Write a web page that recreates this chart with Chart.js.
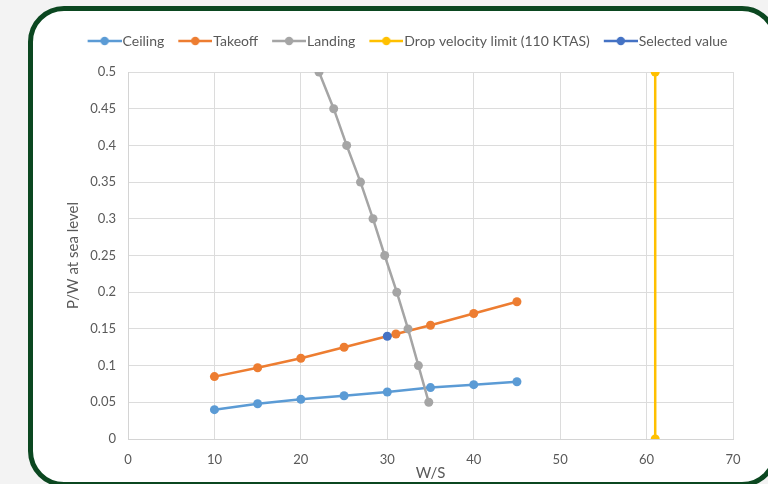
<!DOCTYPE html>
<html>
<head>
<meta charset="utf-8">
<script src="https://cdn.jsdelivr.net/npm/chart.js@4"></script>
<style>
  html, body { margin: 0; padding: 0; width: 768px; height: 484px; overflow: hidden; background: #f3f3f3; }
  #card { position: absolute; left: 28px; top: 6px; width: 750px; height: 481px; box-sizing: border-box;
          border: 5px solid #0b4720; border-radius: 36px; background: #ffffff; }
  #wrap { position: absolute; left: 0; top: 0; width: 768px; height: 484px; }
</style>
</head>
<body>
<div id="card"></div>
<div id="wrap"><canvas id="c" width="768" height="484"></canvas></div>
<script>
// ---- data ----
const seriesNames = ["Ceiling", "Takeoff", "Landing", "Drop velocity limit (110 KTAS)", "Selected value"];
const seriesColors = ["#5b9bd5", "#ed7d31", "#a5a5a5", "#ffc000", "#4472c4"];

const ceilingX = [10, 15, 20, 25, 30, 35, 40, 45];
const ceilingY = [0.040, 0.048, 0.054, 0.059, 0.064, 0.070, 0.074, 0.078];

const takeoffX = [10, 15, 20, 25, 31, 35, 40, 45];
const takeoffY = [0.085, 0.097, 0.110, 0.125, 0.143, 0.155, 0.171, 0.187];

const landingX = [22.1, 23.8, 25.3, 26.9, 28.35, 29.7, 31.1, 32.4, 33.6, 34.8];
const landingY = [0.50, 0.45, 0.40, 0.35, 0.30, 0.25, 0.20, 0.15, 0.10, 0.05];

const dropX = [61, 61];
const dropY = [0, 0.5];

const selectedX = [30];
const selectedY = [0.14];

const xTicks = [0, 10, 20, 30, 40, 50, 60, 70];
const yTicks = [0, 0.05, 0.1, 0.15, 0.2, 0.25, 0.3, 0.35, 0.4, 0.45, 0.5];

const xTitle = "W/S";
const yTitle = "P/W at sea level";
// ---------------------------------------

function pts(xs, ys) { return xs.map((x, i) => ({ x: x, y: ys[i] })); }

// legend marker: 34px line with a dot, shifted right inside a 40px image
function markerImg(color) {
  const cv = document.createElement('canvas');
  cv.width = 40; cv.height = 10;
  const g = cv.getContext('2d');
  g.strokeStyle = color; g.lineWidth = 2.5;
  g.beginPath(); g.moveTo(6, 5); g.lineTo(40, 5); g.stroke();
  g.fillStyle = color;
  g.beginPath(); g.arc(23, 5, 4.2, 0, Math.PI * 2); g.fill();
  return cv;
}
const markers = seriesColors.map(markerImg);

const allData = [pts(ceilingX, ceilingY), pts(takeoffX, takeoffY), pts(landingX, landingY), pts(dropX, dropY), pts(selectedX, selectedY)];

const datasets = seriesNames.map((name, i) => ({
  label: name,
  data: allData[i],
  borderColor: seriesColors[i],
  backgroundColor: seriesColors[i],
  pointBackgroundColor: seriesColors[i],
  pointBorderColor: seriesColors[i],
  borderWidth: 2.5,
  pointRadius: 4.5,
  pointBorderWidth: 0,
  showLine: true,
  tension: 0,
  order: seriesNames.length - i
}));

const shiftLegend = {
  id: 'shiftLegend',
  afterLayout(chart) {
    const lg = chart.legend;
    if (!lg) return;
    const dx = 11, dy = -14;
    lg.left += dx; lg.right += dx; lg.top += dy; lg.bottom += dy;
  }
};

const textColor = '#595959';
const fontFam = 'Lato, "Open Sans", sans-serif';

new Chart(document.getElementById('c'), {
  type: 'scatter',
  data: { datasets: datasets },
  plugins: [shiftLegend],
  options: {
    responsive: false,
    animation: false,
    layout: { padding: { left: 60, right: 35, top: 34, bottom: 0 } },
    plugins: {
      tooltip: { enabled: false },
      legend: {
        position: 'top',
        labels: {
          color: textColor,
          font: { family: fontFam, size: 14 },
          usePointStyle: true,
          pointStyleWidth: 28,
          padding: 14,
          generateLabels(chart) {
            const items = Chart.defaults.plugins.legend.labels.generateLabels(chart);
            items.sort((a, b) => a.datasetIndex - b.datasetIndex);
            items.forEach(it => { it.pointStyle = markers[it.datasetIndex]; });
            return items;
          }
        }
      }
    },
    scales: {
      x: {
        type: 'linear', min: 0, max: 70,
        afterBuildTicks(s) { s.ticks = xTicks.map(v => ({ value: v })); },
        afterFit(s) { s.height = 45; },
        grid: { color: '#dcdcdc', drawTicks: false, lineWidth: 1 },
        border: { color: '#d4d4d4' },
        ticks: { color: textColor, font: { family: fontFam, size: 13 }, padding: 13 },
        title: { display: true, text: xTitle, color: textColor, font: { family: fontFam, size: 15 }, padding: { top: 4, bottom: 2 } }
      },
      y: {
        type: 'linear', min: 0, max: 0.5,
        afterBuildTicks(s) { s.ticks = yTicks.map(v => ({ value: v })); },
        afterFit(s) { s.width = 68; },
        grid: { color: '#dcdcdc', drawTicks: false, lineWidth: 1 },
        border: { color: '#d4d4d4' },
        ticks: { color: textColor, font: { family: fontFam, size: 13 }, padding: 12,
                 callback: v => String(Math.round(v * 100) / 100) },
        title: { display: true, text: yTitle, color: textColor, font: { family: fontFam, size: 15 }, padding: 4 }
      }
    }
  }
});
</script>
</body>
</html>
